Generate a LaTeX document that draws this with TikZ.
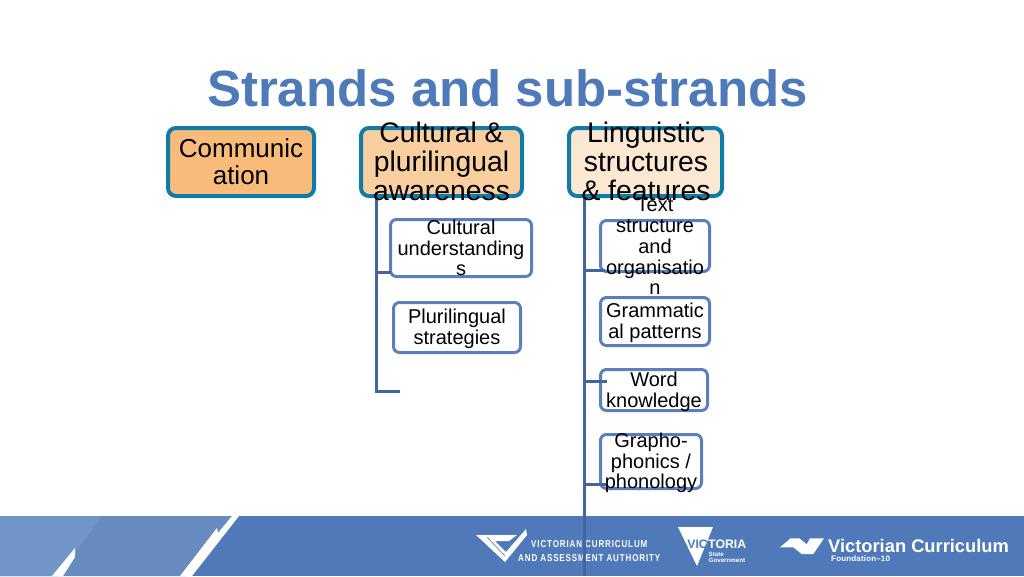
\documentclass[tikz,border=0pt]{standalone}
\usepackage{graphicx}
\usepackage{fontspec}
\setmainfont{Liberation Sans}
\newfontfamily\vcaafont[LetterSpace=11]{Liberation Sans Bold}
\newfontfamily\fdnfont[LetterSpace=2]{Liberation Sans Bold}
\definecolor{titleblue}{HTML}{4F7ABA}
\definecolor{bandc}{HTML}{4F79B9}
\definecolor{bandm}{HTML}{678ABF}
\definecolor{bandl}{HTML}{7096C8}
\definecolor{topline}{HTML}{0F7BA6}
\definecolor{subline}{HTML}{5B7FBD}
\definecolor{trunkc}{HTML}{41659F}
\definecolor{fillA}{HTML}{F9BB7A}
\definecolor{fillB}{HTML}{FACF9F}
\definecolor{fillC}{HTML}{FBE8D3}
\tikzset{
  x=1pt,y=-1pt,
  topbox/.style={draw=topline,line width=4pt,rounded corners=8pt,inner sep=0pt,outer sep=0pt,anchor=north west},
  subbox/.style={draw=subline,line width=3pt,fill=white,rounded corners=6pt,inner sep=0pt,outer sep=0pt,anchor=north west},
  toptext/.style={align=center,inner sep=0pt,font=\fontsize{28.3}{29}\selectfont,text=black},
  commtext/.style={align=center,inner sep=0pt,font=\fontsize{26}{27}\selectfont,text=black},
  subtext/.style={align=center,inner sep=0pt,font=\fontsize{20}{20.7}\selectfont,text=black},
  trunk/.style={draw=trunkc,line width=3pt,line join=miter},
  logo/.style={fill=white,draw=none},
  bandtext/.style={text=white,inner sep=0pt},
}
\newcommand{\boxat}[7][topbox]{\node[#1,fill=#7,minimum width=(#4)-(#2),minimum height=(#5)-(#3)] (#6) at (#2,#3) {};}
\begin{document}
\begin{tikzpicture}
\useasboundingbox (0,0) rectangle (1024,576);
% footer band
\fill[bandc] (0,516) rectangle (1024,576);
\fill[bandm] (0,516) -- (235,516) -- (186,576) -- (0,576) -- cycle;
\fill[bandl] (0,516) -- (102,516) -- (58,576) -- (0,576) -- cycle;
\fill[white] (75,548) -- (75,557) -- (63,576) -- (52,576) -- cycle;
\fill[white] (232,516) -- (239,516) -- (192,576) -- (180,576) -- (217,528) -- (218,533) -- cycle;
% VCAA logo
\fill[logo] (476,535) -- (517,535) -- (509,541) -- (495,541) -- (506,552) -- (526,529) -- (527,535) -- (505,562) -- cycle;
\draw[bandc,line width=.6pt] (487,537) -- (505,556);
\node[bandtext,anchor=west,font=\vcaafont\fontsize{10}{10}\selectfont] (vcaaA) at (531,544) {\scalebox{.8}[1]{VICTORIAN CURRICULUM}};
\node[bandtext,anchor=west,font=\vcaafont\fontsize{10}{10}\selectfont] (vcaaB) at (518,558) {\scalebox{.8}[1]{AND ASSESSMENT AUTHORITY}};
% Victoria logo
\fill[logo] (678,527) -- (713,527) -- (697,566) -- cycle;
\node[text=bandc,inner sep=0pt,anchor=east,font=\bfseries\fontsize{12.3}{12.3}\selectfont] (vicA) at (708,544) {VIC};
\node[bandtext,anchor=west,font=\bfseries\fontsize{12.3}{12.3}\selectfont] (vicB) at (708,544) {TORIA};
\node[bandtext,anchor=west,font=\bfseries\fontsize{6.2}{6.2}\selectfont] (vicC) at (708.5,554) {State};
\node[bandtext,anchor=west,font=\bfseries\fontsize{6.2}{6.2}\selectfont] (vicD) at (708.5,560) {Government};
% Victorian Curriculum logo
\fill[logo] (780,547.3) -- (790.7,538.3) -- (799.3,538.3) -- (806.7,544.3) -- (810,538.3) -- (824,538.3) -- (813.3,554) -- (801.7,554) -- (793.3,547.3) -- cycle;
\node[bandtext,anchor=west,font=\bfseries\fontsize{18.3}{18.3}\selectfont] (vcA) at (828,545.5) {Victorian Curriculum};
\node[bandtext,anchor=west,font=\fdnfont\fontsize{8}{8}\selectfont] (vcB) at (831,558.5) {Foundation–10};
% title
\node[anchor=base,inner sep=0pt,text=titleblue,font=\bfseries\fontsize{51}{51}\selectfont] (title) at (507.5,106) {Strands and sub-strands};
% boxes
\boxat{166+2}{126+2}{316-2}{198-2}{comm}{fillA}
\boxat{359+2}{126+2}{524-2}{198-2}{cult}{fillB}
\boxat{567+2}{126+2}{724-2}{198-2}{ling}{fillC}
\boxat[subbox]{389+1.5}{218+1.5}{533-1.5}{278-1.5}{cu}{white}
\boxat[subbox]{392+1.5}{301+1.5}{522-1.5}{354-1.5}{ps}{white}
\boxat[subbox]{599+1.5}{219+1.5}{711-1.5}{273-1.5}{ts}{white}
\boxat[subbox]{599+1.5}{296+1.5}{711-1.5}{347-1.5}{gp}{white}
\boxat[subbox]{599+1.5}{368+1.5}{709-1.5}{412-1.5}{wk}{white}
\boxat[subbox]{599+1.5}{433+1.5}{703-1.5}{490-1.5}{gr}{white}
% connectors
\coordinate (lt) at (376,391);
\coordinate (ltend) at (400,391);
\coordinate (rt) at (584,576);
\coordinate (tkA) at (391,272.7);
\coordinate (tkB) at (605,270.7);
\coordinate (tkC) at (607,381.7);
\coordinate (tkD) at (607,484);
\draw[trunk] (lt |- cult.south) -- (lt) -- (ltend);
\draw[trunk] (rt |- ling.south) -- (rt);
\draw[trunk] (lt |- tkA) -- (tkA);
\draw[trunk] (rt |- tkB) -- (tkB);
\draw[trunk] (rt |- tkC) -- (tkC);
\draw[trunk] (rt |- tkD) -- (tkD);
% texts
\node[commtext] (commT) at (241,161.5) {Communic\\ation};
\node[toptext] (cultT) at (441.5,161) {Cultural \&\\plurilingual\\awareness};
\node[toptext] (lingT) at (646,161) {Linguistic\\structures\\\& features};
\node[subtext] (cuT) at (461,248) {Cultural\\understanding\\s};
\node[subtext] (psT) at (457,329) {Plurilingual\\strategies};
\node[subtext] (tsT) at (655,246.5) {Text\\structure\\and\\organisatio\\n};
\node[subtext] (gpT) at (655,322.5) {Grammatic\\al patterns};
\node[subtext] (wkT) at (654,391.5) {Word\\knowledge};
\node[subtext] (grT) at (651,463) {Grapho-\\phonics /\\phonology};
\end{tikzpicture}
\end{document}
